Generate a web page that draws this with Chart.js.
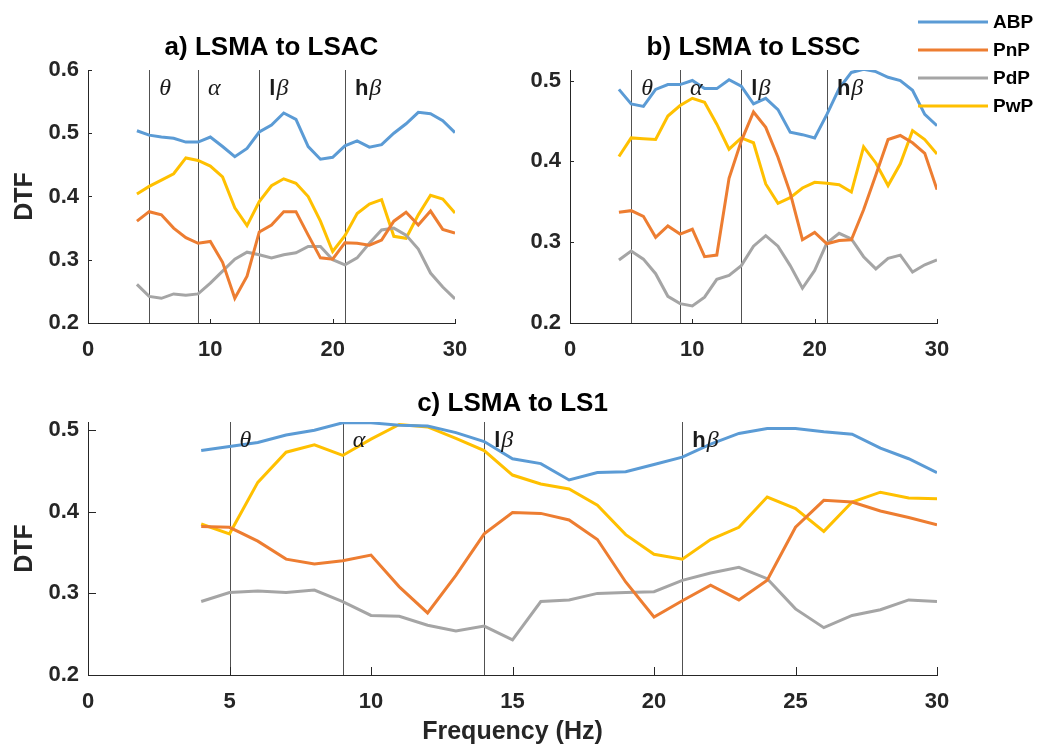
<!DOCTYPE html>
<html>
<head>
<meta charset="utf-8">
<script src="https://cdn.jsdelivr.net/npm/chart.js@4.4.1/dist/chart.umd.min.js"></script>
<style>
  html, body { margin: 0; padding: 0; background: #fff; }
  #wrap { position: relative; width: 1042px; height: 749px; }
  #wrap canvas { position: absolute; left: 0; top: 0; }
</style>
</head>
<body>
<div id="wrap">
  <canvas id="chartA" width="1042" height="749"></canvas>
  <canvas id="chartB" width="1042" height="749"></canvas>
  <canvas id="chartC" width="1042" height="749"></canvas>
</div>
<script>
// frequencies (Hz) shared by every series
const freqs = [4, 5, 6, 7, 8, 9, 10, 11, 12, 13, 14, 15, 16, 17, 18, 19, 20, 21, 22, 23, 24, 25, 26, 27, 28, 29, 30];
const seriesNames = ['ABP', 'PnP', 'PdP', 'PwP'];
const seriesColors = ['#5b9bd5', '#ed7d31', '#a5a5a5', '#ffc000'];

// band edges and their labels
const bandEdges = [5, 9, 14, 21];
const bandPrefix = ['', '', 'l', 'h'];
const bandGreek = ['θ', 'α', 'β', 'β'];

const panelTitles = ['a) LSMA to LSAC', 'b) LSMA to LSSC', 'c) LSMA to LS1'];

// a) LSMA to LSAC
const abpA = [0.504, 0.497, 0.494, 0.492, 0.486, 0.486, 0.494, 0.479, 0.463, 0.476, 0.502, 0.513, 0.532, 0.522, 0.479, 0.459, 0.462, 0.480, 0.488, 0.478, 0.482, 0.500, 0.515, 0.533, 0.531, 0.520, 0.501];
const pnpA = [0.361, 0.376, 0.371, 0.350, 0.335, 0.326, 0.329, 0.296, 0.239, 0.274, 0.344, 0.355, 0.376, 0.376, 0.339, 0.303, 0.301, 0.327, 0.326, 0.323, 0.331, 0.361, 0.375, 0.355, 0.377, 0.348, 0.342];
const pdpA = [0.261, 0.242, 0.239, 0.246, 0.244, 0.246, 0.263, 0.282, 0.301, 0.312, 0.308, 0.303, 0.308, 0.311, 0.321, 0.321, 0.300, 0.292, 0.303, 0.326, 0.347, 0.350, 0.339, 0.317, 0.279, 0.257, 0.238];
const pwpA = [0.404, 0.416, 0.426, 0.436, 0.461, 0.457, 0.448, 0.431, 0.382, 0.354, 0.392, 0.417, 0.428, 0.421, 0.400, 0.361, 0.313, 0.338, 0.373, 0.388, 0.395, 0.337, 0.334, 0.371, 0.402, 0.396, 0.374];

// b) LSMA to LSSC
const abpB = [0.489, 0.471, 0.468, 0.489, 0.495, 0.495, 0.500, 0.490, 0.490, 0.501, 0.493, 0.471, 0.478, 0.464, 0.436, 0.433, 0.429, 0.458, 0.490, 0.510, 0.514, 0.511, 0.504, 0.500, 0.488, 0.458, 0.444];
const pnpB = [0.337, 0.339, 0.332, 0.306, 0.320, 0.310, 0.316, 0.282, 0.284, 0.379, 0.425, 0.461, 0.442, 0.405, 0.361, 0.303, 0.312, 0.298, 0.302, 0.303, 0.340, 0.383, 0.427, 0.432, 0.423, 0.410, 0.365];
const pdpB = [0.278, 0.289, 0.279, 0.261, 0.233, 0.224, 0.221, 0.232, 0.254, 0.259, 0.271, 0.295, 0.308, 0.295, 0.271, 0.243, 0.265, 0.299, 0.311, 0.304, 0.282, 0.267, 0.280, 0.284, 0.263, 0.272, 0.278];
const pwpB = [0.406, 0.429, 0.428, 0.427, 0.456, 0.469, 0.478, 0.473, 0.446, 0.415, 0.429, 0.423, 0.372, 0.348, 0.355, 0.367, 0.374, 0.373, 0.371, 0.362, 0.418, 0.398, 0.370, 0.397, 0.438, 0.427, 0.409];

// c) LSMA to LS1
const abpC = [0.475, 0.480, 0.485, 0.494, 0.500, 0.509, 0.509, 0.506, 0.505, 0.497, 0.486, 0.465, 0.459, 0.439, 0.448, 0.449, 0.458, 0.467, 0.483, 0.496, 0.502, 0.502, 0.498, 0.495, 0.478, 0.465, 0.448];
const pnpC = [0.382, 0.381, 0.364, 0.342, 0.336, 0.340, 0.347, 0.308, 0.276, 0.322, 0.373, 0.399, 0.398, 0.390, 0.366, 0.314, 0.271, 0.291, 0.310, 0.292, 0.316, 0.381, 0.414, 0.412, 0.401, 0.393, 0.384];
const pdpC = [0.290, 0.301, 0.303, 0.301, 0.304, 0.290, 0.273, 0.272, 0.261, 0.254, 0.260, 0.243, 0.290, 0.292, 0.300, 0.301, 0.302, 0.316, 0.325, 0.332, 0.318, 0.281, 0.258, 0.273, 0.280, 0.292, 0.290];
const pwpC = [0.385, 0.373, 0.436, 0.473, 0.482, 0.469, 0.489, 0.507, 0.504, 0.490, 0.475, 0.445, 0.434, 0.428, 0.408, 0.372, 0.348, 0.342, 0.366, 0.381, 0.418, 0.404, 0.376, 0.412, 0.424, 0.417, 0.416];

// tick values
const xTicksAB = [0, 10, 20, 30];
const xTicksC = [0, 5, 10, 15, 20, 25, 30];
const yTicksA = [0.2, 0.3, 0.4, 0.5, 0.6];
const yTicksBC = [0.2, 0.3, 0.4, 0.5];

const FONT = "'Liberation Sans', Arial, Helvetica, sans-serif";
const AXIS_COLOR = '#262626';

// MATLAB style ticks pointing into the plot
const inwardTicks = {
  id: 'inwardTicks',
  afterDraw(chart, args, opts) {
    const { ctx, chartArea: a, scales: { x, y } } = chart;
    ctx.save();
    ctx.strokeStyle = AXIS_COLOR;
    ctx.lineWidth = 1;
    ctx.beginPath();
    x.ticks.forEach(t => {
      const px = Math.round(x.getPixelForValue(t.value)) + 0.5;
      ctx.moveTo(px, a.bottom);
      ctx.lineTo(px, a.bottom - opts.length);
    });
    y.ticks.forEach(t => {
      const py = Math.round(y.getPixelForValue(t.value)) + 0.5;
      ctx.moveTo(a.left, py);
      ctx.lineTo(a.left + opts.length, py);
    });
    ctx.stroke();
    ctx.restore();
  }
};

// frequency band separators and their greek labels
const bands = {
  id: 'bands',
  beforeDatasetsDraw(chart) {
    const { ctx, chartArea: a, scales: { x } } = chart;
    ctx.save();
    ctx.strokeStyle = 'rgba(50,50,50,0.85)';
    ctx.lineWidth = 1;
    ctx.beginPath();
    bandEdges.forEach(f => {
      const px = Math.round(x.getPixelForValue(f)) + 0.5;
      ctx.moveTo(px, a.top);
      ctx.lineTo(px, a.bottom);
    });
    ctx.stroke();
    ctx.restore();
  },
  afterDatasetsDraw(chart) {
    const { ctx, chartArea: a, scales: { x } } = chart;
    ctx.save();
    ctx.fillStyle = '#1a1a1a';
    ctx.textBaseline = 'middle';
    ctx.textAlign = 'left';
    const ty = a.top + 19;
    bandEdges.forEach((f, i) => {
      let px = x.getPixelForValue(f) + 10;
      if (bandPrefix[i]) {
        ctx.font = 'bold 22px ' + FONT;
        ctx.fillText(bandPrefix[i], px, ty);
        px += ctx.measureText(bandPrefix[i]).width + 1;
      }
      ctx.font = "italic 24px 'Liberation Serif', 'Times New Roman', serif";
      ctx.fillText(bandGreek[i], px, ty);
    });
    ctx.restore();
  }
};

// legend in the top right corner
const cornerLegend = {
  id: 'cornerLegend',
  afterDraw(chart) {
    const { ctx } = chart;
    ctx.save();
    ctx.font = 'bold 19px ' + FONT;
    ctx.textBaseline = 'middle';
    ctx.fillStyle = '#000';
    ctx.lineWidth = 3;
    chart.data.datasets.forEach((ds, i) => {
      const yy = 22 + i * 28;
      ctx.strokeStyle = ds.borderColor;
      ctx.beginPath();
      ctx.moveTo(918, yy);
      ctx.lineTo(988, yy);
      ctx.stroke();
      ctx.fillText(ds.label, 993, yy + 1);
    });
    ctx.restore();
  }
};

function makeDatasets(series) {
  return series.map((vals, i) => ({
    label: seriesNames[i],
    data: freqs.map((f, j) => ({ x: f, y: vals[j] })),
    borderColor: seriesColors[i],
    backgroundColor: seriesColors[i],
    borderWidth: 3,
    pointRadius: 0,
    tension: 0,
    fill: false
  }));
}

function makeChart(id, p) {
  const tickFont = { family: FONT, size: 22, weight: 'bold' };
  const labelFont = { family: FONT, size: 25, weight: 'bold', lineHeight: 1.2 };
  return new Chart(document.getElementById(id), {
    type: 'line',
    data: { datasets: makeDatasets(p.series) },
    options: {
      responsive: false,
      animation: false,
      events: [],
      layout: { padding: p.padding },
      plugins: {
        legend: { display: false },
        tooltip: { enabled: false },
        title: {
          display: true,
          text: p.title,
          fullSize: false,
          color: '#000',
          font: { family: FONT, size: 26, weight: 'bold', lineHeight: 1.2 },
          padding: p.titlePad
        },
        inwardTicks: { length: p.tickLen }
      },
      scales: {
        x: {
          type: 'linear',
          min: 0, max: 30,
          afterFit: s => { s.height = p.xHeight; },
          afterBuildTicks: s => { s.ticks = p.xTicks.map(v => ({ value: v })); },
          grid: { display: false, drawTicks: false },
          border: { display: true, color: AXIS_COLOR, width: 1 },
          ticks: { font: tickFont, color: AXIS_COLOR, padding: 14, maxRotation: 0, callback: v => String(v) },
          title: p.xTitle ? {
            display: true, text: p.xTitle, color: AXIS_COLOR,
            font: labelFont,
            padding: { top: 0, bottom: 2 }
          } : { display: false }
        },
        y: {
          type: 'linear',
          min: 0.2, max: p.yMax,
          afterFit: s => { s.width = p.yWidth; },
          afterBuildTicks: s => { s.ticks = p.yTicks.map(v => ({ value: v })); },
          grid: { display: false, drawTicks: false },
          border: { display: true, color: AXIS_COLOR, width: 1 },
          ticks: { font: tickFont, color: AXIS_COLOR, padding: 9, callback: v => Number(v).toFixed(1) },
          title: p.yTitle ? {
            display: true, text: p.yTitle, color: AXIS_COLOR,
            font: labelFont,
            padding: { top: 10, bottom: 0 }
          } : { display: false }
        }
      }
    },
    plugins: [bands, inwardTicks].concat(p.extra || [])
  });
}

makeChart('chartA', {
  series: [abpA, pnpA, pdpA, pwpA],
  title: panelTitles[0],
  padding: { left: 0, top: 32, right: 587, bottom: 386 },
  titlePad: { top: 0, bottom: 6.8 },
  xHeight: 40, yWidth: 88, yMax: 0.6,
  xTicks: xTicksAB, yTicks: yTicksA,
  yTitle: 'DTF', tickLen: 4
});

makeChart('chartB', {
  series: [abpB, pnpB, pdpB, pwpB],
  title: panelTitles[1],
  padding: { left: 510, top: 32, right: 105, bottom: 386 },
  titlePad: { top: 0, bottom: 6.8 },
  xHeight: 40, yWidth: 60, yMax: 0.513,
  xTicks: xTicksAB, yTicks: yTicksBC,
  tickLen: 4, extra: [cornerLegend]
});

makeChart('chartC', {
  series: [abpC, pnpC, pdpC, pwpC],
  title: panelTitles[2],
  padding: { left: 0, top: 388.4, right: 105, bottom: 0 },
  titlePad: { top: 0, bottom: 2.4 },
  xHeight: 74, yWidth: 88, yMax: 0.51,
  xTicks: xTicksC, yTicks: yTicksBC,
  yTitle: 'DTF', xTitle: 'Frequency (Hz)', tickLen: 8
});
</script>
</body>
</html>
